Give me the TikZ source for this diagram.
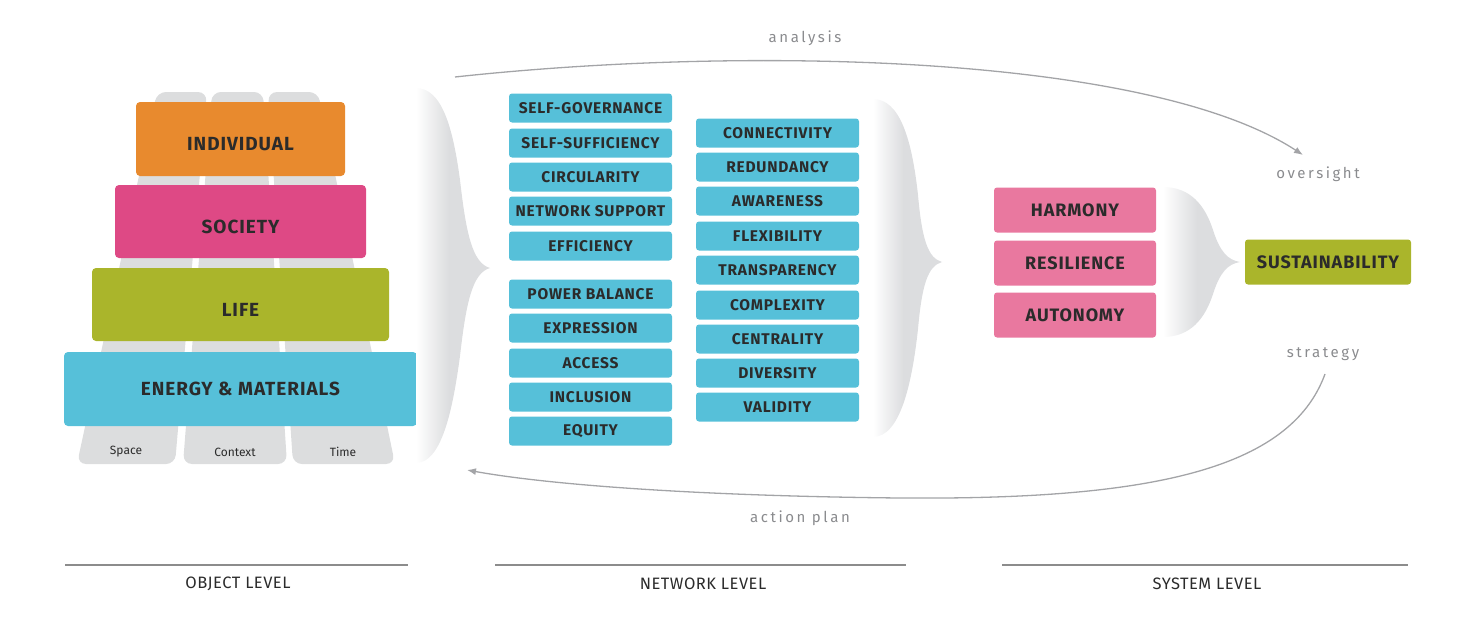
\documentclass[tikz,border=0pt]{standalone}
\usepackage{fontspec}
\setmainfont{Fira Sans}
\newfontfamily\boxfont[LetterSpace=5]{Fira Sans}
\newfontfamily\tagfont[LetterSpace=17]{Fira Sans}
\newfontfamily\levelfont[LetterSpace=3]{Fira Sans}
\usetikzlibrary{arrows.meta}

\definecolor{ink}{HTML}{2B2B2B}
\definecolor{orangeobj}{HTML}{E88A2E}
\definecolor{pinkobj}{HTML}{DE4985}
\definecolor{olive}{HTML}{AAB52B}
\definecolor{netblue}{HTML}{56C0D9}
\definecolor{softpink}{HTML}{E9789F}
\definecolor{pillargrey}{HTML}{DCDDDE}
\definecolor{bracegrey}{HTML}{DCDDDF}
\definecolor{arrowgrey}{HTML}{A3A4A7}
\definecolor{taggrey}{HTML}{8A8B8E}
\definecolor{rulegrey}{HTML}{8C8C8C}

\pgfdeclarehorizontalshading{bracefade}{100bp}{color(0bp)=(white); color(25bp)=(white); color(47bp)=(bracegrey); color(100bp)=(bracegrey)}

\tikzset{
    layer/.style={rounded corners=4pt, inner sep=0pt, text=ink,
        font=\boxfont\bfseries\fontsize{19}{19}\selectfont},
    lowtext/.style={text height=23pt, text depth=0pt},
    prop/.style={fill=netblue, rounded corners=3pt, minimum width=163pt,
        minimum height=29pt, inner sep=0pt, text=ink,
        font=\boxfont\bfseries\fontsize{15.5}{15.5}\selectfont},
    goal/.style={fill=softpink, rounded corners=3pt, minimum width=162pt,
        minimum height=45pt, inner sep=0pt, text=ink,
        font=\boxfont\bfseries\fontsize{18}{18}\selectfont},
    tag/.style={text=taggrey, font=\tagfont\fontsize{15}{15}\selectfont},
    level/.style={text=ink, font=\levelfont\fontsize{16.5}{16.5}\selectfont},
    pillar/.style={fill=pillargrey, rounded corners=9pt},
    flow/.style={draw=arrowgrey, line width=1.3pt, -{Latex[length=9pt,width=7pt]}},
}

\begin{document}
\begin{tikzpicture}[x=1pt, y=-1pt]
    \useasboundingbox (0,0) rectangle (1466,626);

    % pillars behind the object layers
    \fill[pillar] (157,92) -- (207,92) -- (175,464) -- (77,464) -- cycle;
    \fill[pillar] (212,92) -- (263,92) -- (287,464) -- (183,464) -- cycle;
    \fill[pillar] (268,92) -- (318,92) -- (395,464) -- (293,464) -- cycle;
    \node[text=ink, font=\fontsize{12}{12}\selectfont] (space) at (126,452) {Space};
    \node[text=ink, font=\fontsize{12}{12}\selectfont] (context) at (235,452) {Context};
    \node[text=ink, font=\fontsize{12}{12}\selectfont] (time) at (343,452) {Time};

    % object level
    \node[layer, lowtext, fill=orangeobj, minimum width=209pt, minimum height=74pt] (indiv) at (240.5,139) {INDIVIDUAL};
    \node[layer, lowtext, fill=pinkobj, minimum width=251pt, minimum height=73pt] (society) at (240.5,221.5) {SOCIETY};
    \node[layer, lowtext, fill=olive, minimum width=297pt, minimum height=73pt] (life) at (240.5,304.5) {LIFE};
    \node[layer, fill=netblue, minimum width=353pt, minimum height=74pt] (energy) at (240.5,389) {ENERGY \& MATERIALS};

    % braces
    \shade[shading=bracefade] (416,88) .. controls (442,88) and (453,128) .. (460,180)
        .. controls (466,232) and (472,263) .. (490,268)
        .. controls (472,273) and (466,304) .. (460,356)
        .. controls (453,408) and (442,463) .. (416,463) -- cycle;
    \shade[shading=bracefade] (873,99) .. controls (900,99) and (912,140) .. (918,195)
        .. controls (922,240) and (928,258) .. (942,262)
        .. controls (928,266) and (922,284) .. (918,329)
        .. controls (912,384) and (900,437) .. (873,437) -- cycle;
    \shade[shading=bracefade] (1163,187) .. controls (1190,187) and (1205,205) .. (1213,230)
        .. controls (1220,252) and (1228,260) .. (1240,262)
        .. controls (1228,264) and (1220,272) .. (1213,294)
        .. controls (1205,319) and (1190,337) .. (1163,337) -- cycle;

    % network level
    \node[prop] (selfgov) at (590.5,108) {SELF-GOVERNANCE};
    \node[prop] (selfsuf) at (590.5,143) {SELF-SUFFICIENCY};
    \node[prop] (circ) at (590.5,177) {CIRCULARITY};
    \node[prop] (netsup) at (590.5,211) {NETWORK SUPPORT};
    \node[prop] (effic) at (590.5,246) {EFFICIENCY};
    \node[prop] (power) at (590.5,294) {POWER BALANCE};
    \node[prop] (expr) at (590.5,328) {EXPRESSION};
    \node[prop] (access) at (590.5,363) {ACCESS};
    \node[prop] (incl) at (590.5,397) {INCLUSION};
    \node[prop] (equity) at (590.5,431) {EQUITY};
    \node[prop] (connect) at (777.5,133) {CONNECTIVITY};
    \node[prop] (redund) at (777.5,167) {REDUNDANCY};
    \node[prop] (aware) at (777.5,201) {AWARENESS};
    \node[prop] (flex) at (777.5,236) {FLEXIBILITY};
    \node[prop] (transp) at (777.5,270) {TRANSPARENCY};
    \node[prop] (complex) at (777.5,305) {COMPLEXITY};
    \node[prop] (central) at (777.5,339) {CENTRALITY};
    \node[prop] (divers) at (777.5,373) {DIVERSITY};
    \node[prop] (valid) at (777.5,407) {VALIDITY};

    % system level
    \node[goal] (harmony) at (1075,210) {HARMONY};
    \node[goal] (resil) at (1075,263) {RESILIENCE};
    \node[goal] (auton) at (1075,315) {AUTONOMY};
    \node[goal, fill=olive, minimum width=166pt] (sustain) at (1328,262) {SUSTAINABILITY};

    % feedback loop
    \node[tag] (analysis) at (805,38) {analysis};
    \node[tag] (oversight) at (1318,174) {oversight};
    \node[tag] (strategy) at (1323,354) {strategy};
    \node[tag] (actplan) at (800,518) {action plan};
    \coordinate (anastart) at (455,77);
    \coordinate (anaend) at (1303,155);
    \coordinate (stratstart) at (1325,374);
    \coordinate (stratmid) at (900,498);
    \coordinate (stratend) at (467,470);
    \draw[flow] (anastart) .. controls (750,45) and (1150,55) .. (anaend);
    \draw[flow] (stratstart) .. controls (1290,470) and (1150,500) .. (stratmid)
        .. controls (700,496) and (550,485) .. (stratend);

    % levels
    \node[level] (objlvl) at (238,584) {OBJECT LEVEL};
    \node[level] (netlvl) at (703,584) {NETWORK LEVEL};
    \node[level] (syslvl) at (1207,584) {SYSTEM LEVEL};
    \draw[rulegrey, line width=1.6pt] (65,565) -- (408,565);
    \draw[rulegrey, line width=1.6pt] (495,565) -- (906,565);
    \draw[rulegrey, line width=1.6pt] (1002,565) -- (1408,565);
\end{tikzpicture}
\end{document}
